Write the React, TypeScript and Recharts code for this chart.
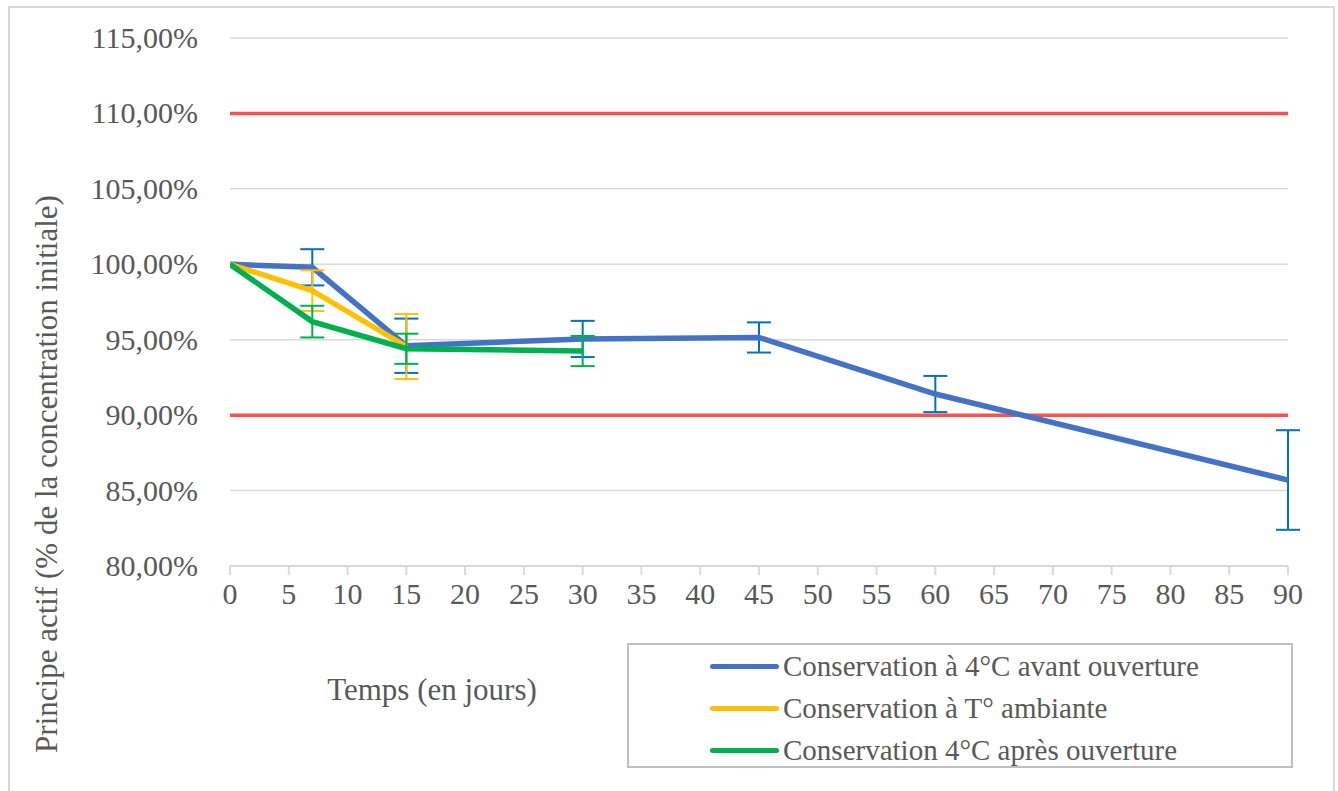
import React from 'react';
import { LineChart, Line, XAxis, YAxis, CartesianGrid, ReferenceLine, ErrorBar, Legend } from 'recharts';

const xTicks = [0, 5, 10, 15, 20, 25, 30, 35, 40, 45, 50, 55, 60, 65, 70, 75, 80, 85, 90];
const yTicks = [80, 85, 90, 95, 100, 105, 110, 115];
const limits = [110, 90];

const seriesNames = [
  'Conservation à 4°C avant ouverture',
  'Conservation à T° ambiante',
  'Conservation 4°C après ouverture',
];

// Conservation à 4°C avant ouverture
const daysAvant = [0, 7, 15, 30, 45, 60, 90];
const valuesAvant = [100, 99.8, 94.6, 95.05, 95.15, 91.4, 85.7];
const errAvant = [0, 1.2, 1.8, 1.2, 1.0, 1.2, 3.3];

// Conservation à T° ambiante
const daysAmbiante = [0, 7, 15];
const valuesAmbiante = [100, 98.25, 94.55];
const errAmbiante = [0, 1.35, 2.15];

// Conservation 4°C après ouverture
const daysApres = [0, 7, 15, 30];
const valuesApres = [100, 96.2, 94.4, 94.25];
const errApres = [0, 1.05, 1.0, 1.0];

const toRows = (days: number[], values: number[], errs: number[]) =>
  days.map((d, i) => ({ day: d, value: values[i], err: errs[i] }));

const FONT = '"Liberation Serif", "Times New Roman", serif';
const TEXT = '#595959';

const fmtPct = (v: number) => `${v.toFixed(2).replace('.', ',')}%`;

const XTick = (props: any) => {
  const { x, y, payload } = props;
  return (
    <text x={x} y={y} dy={22} textAnchor="middle" fill={TEXT} style={{ fontFamily: FONT, fontSize: 30 }}>
      {payload.value}
    </text>
  );
};

const YTick = (props: any) => {
  const { x, y, payload } = props;
  return (
    <text x={x} y={y} dy={10} textAnchor="end" fill={TEXT} style={{ fontFamily: FONT, fontSize: 30 }}>
      {fmtPct(payload.value)}
    </text>
  );
};

const LegendBox = (props: any) => {
  const items = [...(props.payload || [])].sort(
    (a: any, b: any) => seriesNames.indexOf(a.value) - seriesNames.indexOf(b.value)
  );
  return (
    <div
      style={{
        width: 662,
        height: 121,
        border: '2px solid #bfbfbf',
        boxSizing: 'content-box',
        fontFamily: FONT,
        fontSize: 29,
        color: TEXT,
      }}
    >
      {items.map((it: any) => (
        <div key={it.value} style={{ display: 'flex', alignItems: 'center', height: 42, lineHeight: '42px' }}>
          <div style={{ width: 69, height: 5, marginLeft: 81, marginRight: 4, borderRadius: 3, background: it.color }} />
          <span>{it.value}</span>
        </div>
      ))}
    </div>
  );
};

export default function App() {
  return (
    <div
      style={{
        position: 'absolute',
        left: 0,
        top: 0,
        width: 1338,
        height: 791,
        background: '#fff',
        overflow: 'hidden',
        fontFamily: FONT,
      }}
    >
      <div
        style={{
          position: 'absolute',
          left: 8,
          top: 6,
          width: 1323,
          height: 800,
          border: '2px solid #d9d9d9',
        }}
      />
      <LineChart
        width={1338}
        height={791}
        margin={{ top: 38, right: 50, left: 0, bottom: 185 }}
        style={{ fontFamily: FONT }}
      >
        <CartesianGrid vertical={false} stroke="#d9d9d9" strokeWidth={1.5} />
        <XAxis
          type="number"
          dataKey="day"
          domain={[0, 90]}
          ticks={xTicks}
          interval={0}
          height={40}
          stroke="#d9d9d9"
          strokeWidth={2}
          tickSize={9}
          tickMargin={7}
          tick={<XTick />}
          allowDataOverflow
        />
        <YAxis
          type="number"
          domain={[80, 115]}
          ticks={yTicks}
          interval={0}
          width={230}
          axisLine={false}
          tickLine={false}
          tickSize={0}
          tickMargin={32}
          tick={<YTick />}
        />
        {limits.map((v) => (
          <ReferenceLine key={v} y={v} stroke="#ff5050" strokeWidth={3.5} />
        ))}
        <Line
          data={toRows(daysAvant, valuesAvant, errAvant)}
          dataKey="value"
          name={seriesNames[0]}
          stroke="#4472c4"
          strokeWidth={5.5}
          dot={false}
          isAnimationActive={false}
        >
          <ErrorBar dataKey="err" direction="y" stroke="#0070c0" strokeWidth={2} width={12} isAnimationActive={false} />
        </Line>
        <Line
          data={toRows(daysAmbiante, valuesAmbiante, errAmbiante)}
          dataKey="value"
          name={seriesNames[1]}
          stroke="#ffc000"
          strokeWidth={5.5}
          dot={false}
          isAnimationActive={false}
        >
          <ErrorBar dataKey="err" direction="y" stroke="#ffc000" strokeWidth={2} width={12} isAnimationActive={false} />
        </Line>
        <Line
          data={toRows(daysApres, valuesApres, errApres)}
          dataKey="value"
          name={seriesNames[2]}
          stroke="#00b050"
          strokeWidth={5.5}
          dot={false}
          isAnimationActive={false}
        >
          <ErrorBar dataKey="err" direction="y" stroke="#00b050" strokeWidth={2} width={12} isAnimationActive={false} />
        </Line>
        <Legend
          layout="vertical"
          align="center"
          verticalAlign="middle"
          content={LegendBox}
          wrapperStyle={{ left: 627, top: 643, bottom: 'auto', width: 666, height: 127 }}
        />
      </LineChart>
      <div
        style={{
          position: 'absolute',
          left: 232,
          top: 670,
          width: 400,
          height: 40,
          lineHeight: '40px',
          textAlign: 'center',
          fontSize: 31,
          color: TEXT,
        }}
      >
        Temps (en jours)
      </div>
      <div
        style={{
          position: 'absolute',
          left: 47 - 400,
          top: 474 - 20,
          width: 800,
          height: 40,
          lineHeight: '40px',
          textAlign: 'center',
          fontSize: 31,
          color: TEXT,
          transform: 'rotate(-90deg)',
        }}
      >
        Principe actif (% de la concentration initiale)
      </div>
    </div>
  );
}
